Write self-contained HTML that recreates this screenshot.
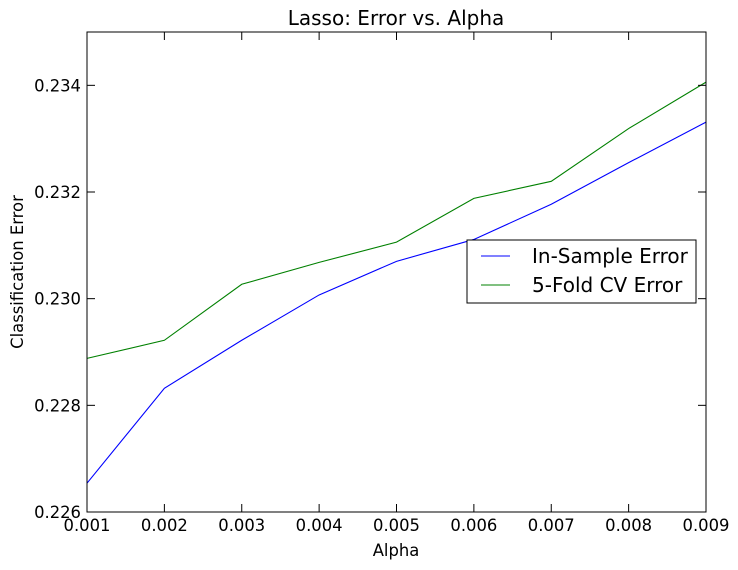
<!DOCTYPE html>
<html><head><meta charset="utf-8"><style>
html,body{margin:0;padding:0;background:#fff;}
svg{display:block;font-family:"DejaVu Sans","Liberation Sans",sans-serif;}
</style></head><body>
<svg id="chart" width="738" height="570">
<rect x="0" y="0" width="738" height="570" fill="#fff"/>
<g id="marks"></g>
<rect x="87" y="32" width="619" height="480" fill="none" stroke="#000" stroke-width="1"/>
<g id="ticks"></g>
<text x="396" y="25" font-size="20" text-anchor="middle">Lasso: Error vs. Alpha</text>
<text x="396" y="556" font-size="16.4" text-anchor="middle">Alpha</text>
<text x="23" y="272" font-size="16.4" text-anchor="middle" transform="rotate(-90 23 272)">Classification Error</text>
<g>
<rect x="467" y="240" width="229" height="63" fill="#fff" stroke="#000"/>
<line x1="481" y1="256" x2="510" y2="256" stroke="#0000ff"/>
<text x="532" y="263" font-size="20">In-Sample Error</text>
<line x1="481" y1="285" x2="510" y2="285" stroke="#008000"/>
<text x="532" y="292" font-size="20">5-Fold CV Error</text>
</g>
</svg>
<script>
const alphas=[0.001,0.002,0.003,0.004,0.005,0.006,0.007,0.008,0.009];
const inSample=[0.22654,0.22832,0.22922,0.23007,0.23070,0.23111,0.23177,0.23255,0.23331];
const cvError=[0.22888,0.22922,0.23027,0.23068,0.23106,0.23188,0.23220,0.23319,0.23406];
const xTicks=[0.001,0.002,0.003,0.004,0.005,0.006,0.007,0.008,0.009];
const yTicks=[0.226,0.228,0.230,0.232,0.234];
const X0=87,X1=706,Y0=512,Y1=32,xmin=0.001,xmax=0.009,ymin=0.226,ymax=0.235;
const sx=v=>X0+(v-xmin)/(xmax-xmin)*(X1-X0);
const sy=v=>Y0-(v-ymin)/(ymax-ymin)*(Y0-Y1);
const NS='http://www.w3.org/2000/svg';
const marks=document.getElementById('marks'),ticks=document.getElementById('ticks');
function line(vals,color,name){
 const p=document.createElementNS(NS,'polyline');
 p.setAttribute('points',vals.map((v,i)=>sx(alphas[i])+','+sy(v)).join(' '));
 p.setAttribute('fill','none');p.setAttribute('stroke',color);p.setAttribute('stroke-width','1.1');
 
 
 marks.appendChild(p);
}
line(inSample,'#0000ff','in-sample-error-line');
line(cvError,'#008000','cv-error-line');
function mk(tag,attrs){const e=document.createElementNS(NS,tag);for(const k in attrs)e.setAttribute(k,attrs[k]);ticks.appendChild(e);return e;}
xTicks.forEach(t=>{
 const x=sx(t);
 const a=mk('line',{x1:x,y1:Y0,x2:x,y2:Y0-8,stroke:'#000'});
 
 
 const b=mk('line',{x1:x,y1:Y1,x2:x,y2:Y1+8,stroke:'#000'});
 
 
 const l=mk('text',{x:x,y:531,'font-size':16.4,'text-anchor':'middle'});
 l.textContent=t.toFixed(3);
 
 
});
yTicks.forEach(t=>{
 const y=sy(t);
 const a=mk('line',{x1:X0,y1:y,x2:X0+8,y2:y,stroke:'#000'});
 
 
 const b=mk('line',{x1:X1,y1:y,x2:X1-8,y2:y,stroke:'#000'});
 
 
 const l=mk('text',{x:81,y:y+6,'font-size':16.4,'text-anchor':'end'});
 l.textContent=t.toFixed(3);
 
 
});
</script>
</body></html>
